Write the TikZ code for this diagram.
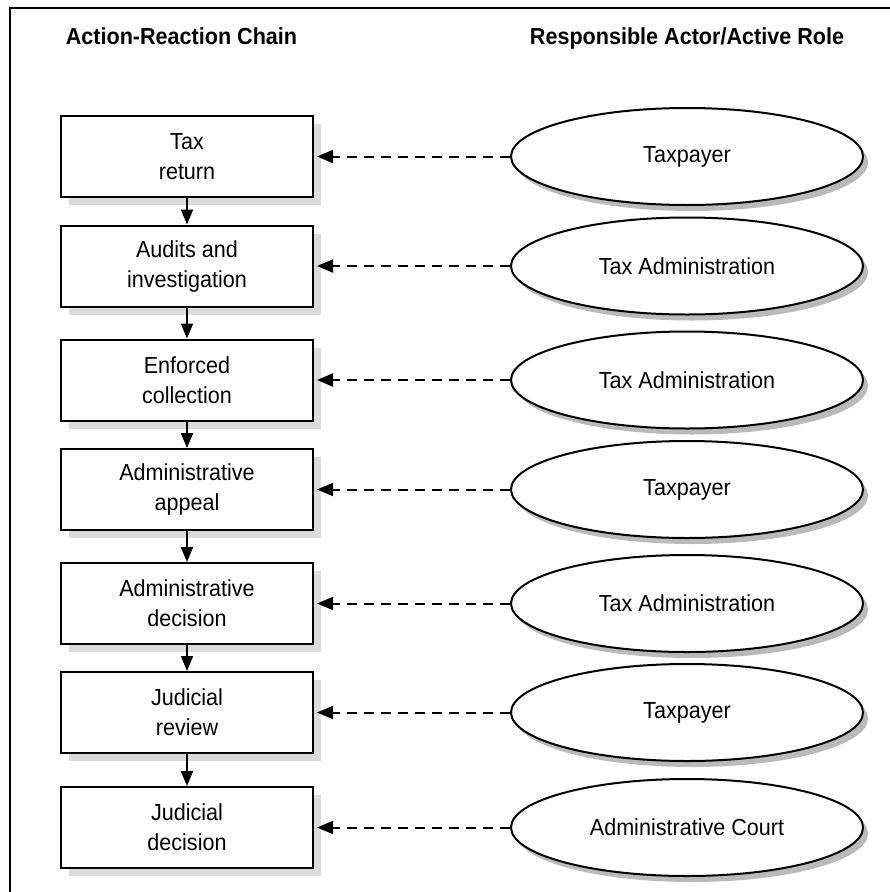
\documentclass[tikz,border=0pt]{standalone}
\usepackage{fontspec}
\setmainfont[FakeStretch=0.93]{Liberation Sans}
\usetikzlibrary{shapes.geometric,shadows,arrows.meta}
\begin{document}
\begin{tikzpicture}[x=1pt,y=-1pt,
  txt/.style={font=\fontsize{23.2}{30}\selectfont},
  hdr/.style={font=\fontsize{23.2}{30}\selectfont\bfseries, anchor=base},
  chainbox/.style={txt, draw, line width=2pt, fill=white, align=center,
    minimum width=252pt, minimum height=81pt, inner sep=0pt,
    drop shadow={shadow xshift=8pt, shadow yshift=-8pt, fill=black!14, opacity=1}},
  actor/.style={txt, ellipse, draw, line width=2pt, fill=white,
    minimum width=352pt, minimum height=97pt, inner sep=0pt,
    drop shadow={shadow xshift=5pt, shadow yshift=-6pt, fill=black!27, opacity=1}},
  flowarrow/.style={line width=2pt, -{Triangle[length=15pt,width=12pt]}},
  rolearrow/.style={line width=2pt, dash pattern=on 10pt off 7pt,
    -{Triangle[length=16pt,width=13pt]}, shorten >=3pt}
]
\useasboundingbox (0,0) rectangle (890,892);
\draw[line width=1.6pt] (10,900) -- (10,8) -- (900,8);

\node[hdr] (h1) at (181.5,44) {Action-Reaction Chain};
\node[hdr] (h2) at (687,44) {Responsible Actor/Active Role};

\node[chainbox] (b1) at (187,156.5) {Tax\\return};
\node[chainbox] (b2) at (187,266) {Audits and\\investigation};
\node[chainbox] (b3) at (187,380) {Enforced\\collection};
\node[chainbox] (b4) at (187,489.5) {Administrative\\appeal};
\node[chainbox] (b5) at (187,603.5) {Administrative\\decision};
\node[chainbox] (b6) at (187,712.5) {Judicial\\review};
\node[chainbox] (b7) at (187,827.5) {Judicial\\decision};

\node[actor] (e1) at (687,156.5) {Taxpayer};
\node[actor] (e2) at (687,266) {Tax Administration};
\node[actor] (e3) at (687,380) {Tax Administration};
\node[actor] (e4) at (687,489.5) {Taxpayer};
\node[actor] (e5) at (687,603.5) {Tax Administration};
\node[actor] (e6) at (687,712.5) {Taxpayer};
\node[actor] (e7) at (687,827.5) {Administrative Court};

\foreach \a/\b in {b1/b2,b2/b3,b3/b4,b4/b5,b5/b6,b6/b7}
  \draw[flowarrow] (\a.south) -- (\b.north);
\foreach \i in {1,...,7}
  \draw[rolearrow] (e\i.west) -- (b\i.east);
\end{tikzpicture}
\end{document}
